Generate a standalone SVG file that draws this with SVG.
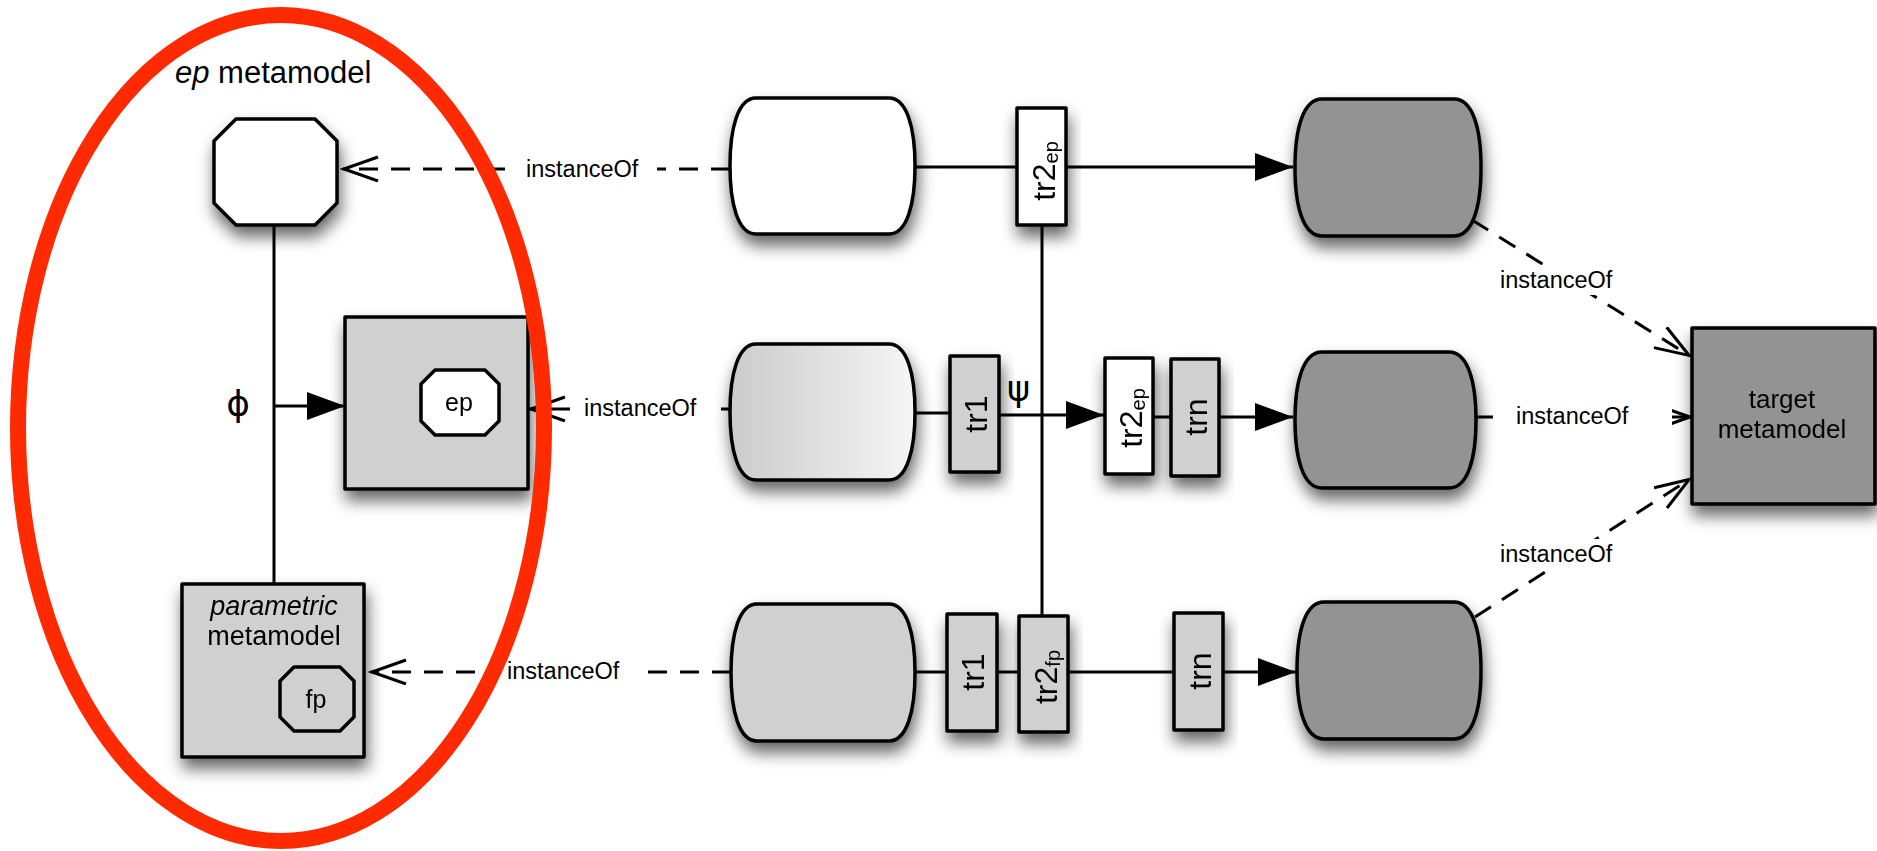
<svg xmlns="http://www.w3.org/2000/svg" width="1877" height="851" viewBox="0 0 1877 851">
  <style>
    .node { stroke: #000; stroke-width: 3.5; stroke-linejoin: round; }
    .white { fill: #fff; }
    .light { fill: #d0d0d0; }
    .dark { fill: #939393; }
    .line { fill: none; stroke: #000; stroke-width: 3; }
    .dash { fill: none; stroke: #000; stroke-width: 3; stroke-dasharray: 19 13; }
    .lbl { font-family: "Liberation Sans", Arial, sans-serif; fill: #000; }
    .greek { font-family: "DejaVu Sans", "Liberation Sans", sans-serif; fill: #000; }
    .inst { font-size: 23.5px; }
    .tr { font-size: 32px; }
    .sub { font-size: 20px; }
    .shadowed { filter: url(#shadow); }
  </style>
  <defs>
    <filter id="shadow" x="-30%" y="-30%" width="160%" height="170%">
      <feDropShadow dx="2" dy="10" stdDeviation="8" flood-color="#000" flood-opacity="0.6"/>
    </filter>
    <linearGradient id="fade" x1="0" y1="0" x2="1" y2="0">
      <stop offset="0" stop-color="#cbcbcb"/>
      <stop offset="1" stop-color="#f6f6f6"/>
    </linearGradient>
    <marker id="solidHead" markerUnits="userSpaceOnUse" markerWidth="40" markerHeight="30" refX="38" refY="14" orient="auto">
      <path d="M0,0 L38,14 L0,28 Z" fill="#000"/>
    </marker>
    <marker id="openHead" markerUnits="userSpaceOnUse" markerWidth="40" markerHeight="30" refX="37" refY="13" orient="auto">
      <path d="M2,1 L36,13 L2,25" fill="none" stroke="#000" stroke-width="3"/>
    </marker>
  </defs>

  <rect width="1877" height="851" fill="#fff"/>

  <!-- connectors -->
  <g id="connectors">
    <!-- phi mapping inside the ep metamodel -->
    <path class="line" d="M274,225 V584"/>
    <path class="line" d="M274,406 H345" marker-end="url(#solidHead)"/>
    <text class="greek" x="238" y="416" font-size="36" text-anchor="middle">ϕ</text>

    <!-- shared tr2 spine -->
    <path class="line" d="M1042,225 V616"/>

    <!-- top row -->
    <path class="line" d="M915,167 H1017"/>
    <path class="line" d="M1066,167 H1293" marker-end="url(#solidHead)"/>

    <!-- middle row -->
    <path class="line" d="M915,413 H950"/>
    <path class="line" d="M999,415 H1104" marker-end="url(#solidHead)"/>
    <text class="greek" x="1018.5" y="401" font-size="35" text-anchor="middle">ψ</text>
    <path class="line" d="M1153,417 H1171"/>
    <path class="line" d="M1219,417 H1293" marker-end="url(#solidHead)"/>

    <!-- bottom row -->
    <path class="line" d="M915,672 H947"/>
    <path class="line" d="M997,672 H1019"/>
    <path class="line" d="M1068,672 H1174"/>
    <path class="line" d="M1223,672 H1296" marker-end="url(#solidHead)"/>

    <!-- instanceOf links, left side -->
    <path class="dash" d="M730,169 H343" marker-end="url(#openHead)"/>
    <rect x="505" y="152" width="152" height="32" fill="#fff"/>
    <text class="lbl inst" x="526" y="177">instanceOf</text>

    <path class="dash" d="M730,409 H530" marker-end="url(#openHead)"/>
    <rect x="578" y="395" width="143" height="28" fill="#fff"/>
    <text class="lbl inst" x="584" y="416">instanceOf</text>

    <path class="dash" d="M731,672 H371" marker-end="url(#openHead)"/>
    <rect x="490" y="656" width="150" height="32" fill="#fff"/>
    <text class="lbl inst" x="507" y="679">instanceOf</text>

    <!-- instanceOf links, right side -->
    <path class="dash" d="M1472,220 L1690,356" marker-end="url(#openHead)"/>
    <rect x="1498" y="265" width="142" height="30" fill="#fff"/>
    <text class="lbl inst" x="1500" y="288">instanceOf</text>

    <path class="dash" d="M1476,417 H1691" marker-end="url(#openHead)"/>
    <rect x="1493" y="403" width="179" height="30" fill="#fff"/>
    <text class="lbl inst" x="1516" y="424">instanceOf</text>

    <path class="dash" d="M1475,617 L1690,479" marker-end="url(#openHead)"/>
    <rect x="1498" y="539" width="142" height="30" fill="#fff"/>
    <text class="lbl inst" x="1500" y="562">instanceOf</text>
  </g>

  <!-- ep metamodel side -->
  <g id="ep-metamodel-label">
    <text class="lbl" x="175" y="83" font-size="31"><tspan font-style="italic">ep</tspan> metamodel</text>
  </g>

  <g id="ep-root" class="shadowed">
    <polygon class="node white" points="236,119 315,119 337,141 337,203 315,225 236,225 214,203 214,141"/>
  </g>

  <g id="ep-box" class="shadowed">
    <rect class="node light" x="345" y="317" width="183" height="172"/>
    <polygon class="node white" points="435,370 485,370 499,384 499,421 485,435 435,435 421,421 421,384"/>
    <text class="lbl" x="459" y="411" font-size="25" text-anchor="middle">ep</text>
  </g>

  <g id="parametric-metamodel" class="shadowed">
    <rect class="node light" x="182" y="584" width="182" height="173"/>
    <text class="lbl" x="274" y="615" font-size="27" text-anchor="middle" font-style="italic">parametric</text>
    <text class="lbl" x="274" y="645" font-size="27" text-anchor="middle">metamodel</text>
    <polygon class="node light" points="294,667 340,667 354,681 354,717 340,731 294,731 280,717 280,681"/>
    <text class="lbl" x="316" y="708" font-size="25" text-anchor="middle">fp</text>
  </g>

  <!-- source models -->
  <g id="model-top" class="shadowed">
    <path class="node white" d="M756 98 H889 C907 98 915 128 915 166 C915 204 907 234 889 234 H756 C738 234 730 204 730 166 C730 128 738 98 756 98 Z"/>
  </g>
  <g id="model-middle" class="shadowed">
    <path class="node" fill="url(#fade)" d="M756 344 H889 C907 344 915 374 915 412 C915 450 907 480 889 480 H756 C738 480 730 450 730 412 C730 374 738 344 756 344 Z"/>
  </g>
  <g id="model-bottom" class="shadowed">
    <path class="node light" d="M757 604 H889 C907 604 915 634 915 672.5 C915 711 907 741 889 741 H757 C739 741 731 711 731 672.5 C731 634 739 604 757 604 Z"/>
  </g>

  <!-- transformations -->
  <g id="tr2ep-top" class="shadowed">
    <rect class="node white" x="1017" y="108" width="49" height="117"/>
    <text class="lbl tr" transform="translate(1041.5,171) rotate(-90)" y="13" text-anchor="middle">tr2<tspan class="sub" dy="3">ep</tspan></text>
  </g>
  <g id="tr1-middle" class="shadowed">
    <rect class="node light" x="950" y="356" width="49" height="116"/>
    <text class="lbl tr" transform="translate(974.5,414) rotate(-90)" y="12" text-anchor="middle">tr1</text>
  </g>
  <g id="tr2ep-middle" class="shadowed">
    <rect class="node white" x="1105" y="358" width="48" height="116"/>
    <text class="lbl tr" transform="translate(1129,418) rotate(-90)" y="13" text-anchor="middle">tr2<tspan class="sub" dy="3">ep</tspan></text>
  </g>
  <g id="trn-middle" class="shadowed">
    <rect class="node light" x="1171" y="359" width="48" height="117"/>
    <text class="lbl tr" transform="translate(1195,417) rotate(-90)" y="12" text-anchor="middle">trn</text>
  </g>
  <g id="tr1-bottom" class="shadowed">
    <rect class="node light" x="947" y="614" width="50" height="117"/>
    <text class="lbl tr" transform="translate(972,672) rotate(-90)" y="12" text-anchor="middle">tr1</text>
  </g>
  <g id="tr2fp-bottom" class="shadowed">
    <rect class="node light" x="1019" y="616" width="49" height="116"/>
    <text class="lbl tr" transform="translate(1043.5,677) rotate(-90)" y="13" text-anchor="middle">tr2<tspan class="sub" dy="3">fp</tspan></text>
  </g>
  <g id="trn-bottom" class="shadowed">
    <rect class="node light" x="1174" y="613" width="49" height="117"/>
    <text class="lbl tr" transform="translate(1198.5,671) rotate(-90)" y="12" text-anchor="middle">trn</text>
  </g>

  <!-- target models -->
  <g id="target-top" class="shadowed">
    <path class="node dark" d="M1322 99 H1454 C1473 99 1481 129 1481 167.5 C1481 206 1473 236 1454 236 H1322 C1303 236 1295 206 1295 167.5 C1295 129 1303 99 1322 99 Z"/>
  </g>
  <g id="target-middle" class="shadowed">
    <path class="node dark" d="M1322 352 H1449 C1468 352 1476 382 1476 420 C1476 458 1468 488 1449 488 H1322 C1303 488 1295 458 1295 420 C1295 382 1303 352 1322 352 Z"/>
  </g>
  <g id="target-bottom" class="shadowed">
    <path class="node dark" d="M1324 602 H1454 C1473 602 1481 632 1481 670.5 C1481 709 1473 739 1454 739 H1324 C1305 739 1297 709 1297 670.5 C1297 632 1305 602 1324 602 Z"/>
  </g>

  <g id="target-metamodel" class="shadowed">
    <rect class="node dark" x="1692" y="328" width="183" height="176"/>
    <text class="lbl" x="1782" y="408" font-size="26" text-anchor="middle">target</text>
    <text class="lbl" x="1782" y="438" font-size="26" text-anchor="middle">metamodel</text>
  </g>

  <!-- highlight around the ep metamodel -->
  <g id="highlight">
    <ellipse cx="281" cy="428" rx="263" ry="413" fill="none" stroke="#ff2a00" stroke-width="16"/>
  </g>
</svg>
